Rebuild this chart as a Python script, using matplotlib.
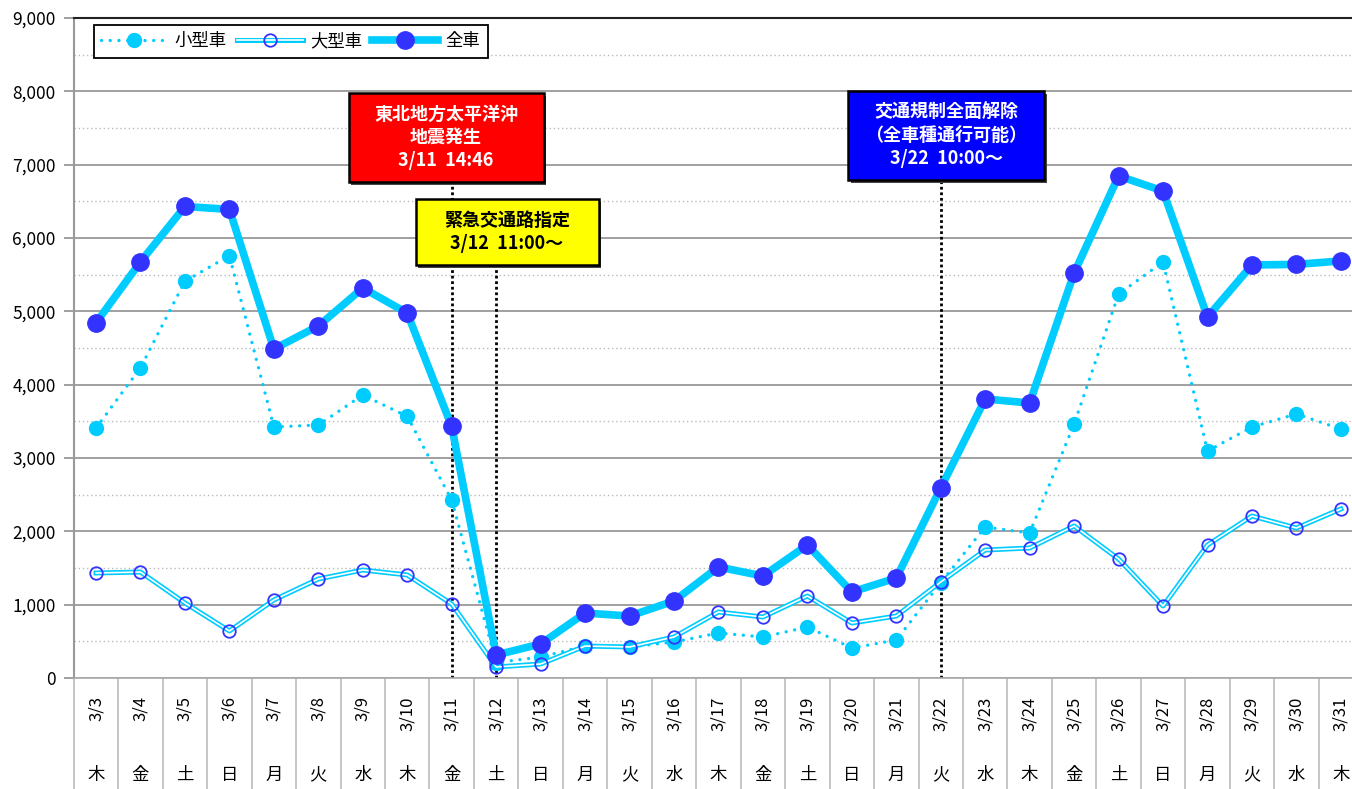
import matplotlib
matplotlib.use("Agg")
import matplotlib.pyplot as plt
from matplotlib.lines import Line2D
from matplotlib.patches import Rectangle
from matplotlib.legend_handler import HandlerTuple

plt.rcParams['font.family'] = ['Noto Sans CJK JP', 'DejaVu Sans']

dates = ["3/3", "3/4", "3/5", "3/6", "3/7", "3/8", "3/9", "3/10", "3/11", "3/12",
         "3/13", "3/14", "3/15", "3/16", "3/17", "3/18", "3/19", "3/20", "3/21", "3/22",
         "3/23", "3/24", "3/25", "3/26", "3/27", "3/28", "3/29", "3/30", "3/31"]
weekdays = ["木", "金", "土", "日", "月", "火", "水", "木", "金", "土",
            "日", "月", "火", "水", "木", "金", "土", "日", "月", "火",
            "水", "木", "金", "土", "日", "月", "火", "水", "木"]

small = [3409, 4230, 5410, 5760, 3423, 3450, 3859, 3568, 2427, 210,
         286, 436, 423, 491, 614, 559, 695, 409, 518, 1300,
         2059, 1977, 3464, 5236, 5673, 3095, 3423, 3600, 3395]
large = [1432, 1445, 1023, 641, 1064, 1350, 1473, 1405, 1009, 150,
         191, 436, 423, 559, 900, 832, 1118, 750, 845, 1309,
         1745, 1773, 2073, 1623, 982, 1814, 2209, 2045, 2305]
total = [4845, 5675, 6430, 6390, 4486, 4800, 5318, 4977, 3430, 314,
         464, 886, 845, 1050, 1514, 1391, 1814, 1173, 1364, 2591,
         3805, 3750, 5523, 6846, 6641, 4923, 5632, 5640, 5687]

event_idx = [8, 9, 19]

cyan = "#00CCFF"
blue = "#3333FF"

fig = plt.figure(figsize=(13.52, 7.89), dpi=100)
ax = fig.add_axes([73.8 / 1352, 111 / 789, (1352 - 73.8) / 1352, 660 / 789])

x = list(range(len(dates)))

# 小型車
ax.plot(x, small, color=cyan, lw=2.4, linestyle=(0, (0.01, 2.6)),
        dash_capstyle='round', zorder=3)
ax.plot(x, small, 'o', color=cyan, ms=10, zorder=3.1)
# 大型車 (double line)
ax.plot(x, large, color=cyan, lw=3.6, zorder=4)
ax.plot(x, large, color='white', lw=1.2, zorder=4.1)
ax.plot(x, large, 'o', mfc='none', mec=blue, ms=9, mew=1.3, zorder=4.2)
# 全車
ax.plot(x, total, color=cyan, lw=5.5, zorder=5)
ax.plot(x, total, 'o', color=blue, ms=12.5, zorder=5.1)

ax.set_xlim(-0.5, 28.25)
ax.set_ylim(0, 9000)
ax.set_yticks(range(0, 9001, 1000))
ax.set_yticklabels([f"{v:,}" for v in range(0, 9001, 1000)], fontsize=12.5)
ax.set_yticks(range(500, 9000, 1000), minor=True)
ax.tick_params(axis='y', which='major', length=7, color='#999999', width=1.3, pad=6)
ax.tick_params(axis='y', which='minor', length=0)
ax.grid(axis='y', which='major', color='#A0A0A0', lw=1.4, zorder=0)
ax.grid(axis='y', which='minor', color='#BBBBBB', lw=1, linestyle=(0, (1, 2)), zorder=0)
ax.set_xticks([])

ax.spines['right'].set_visible(False)
ax.spines['top'].set_color('#222222')
ax.spines['top'].set_linewidth(1.5)
ax.spines['left'].set_color('#999999')
ax.spines['left'].set_linewidth(1.5)
ax.spines['bottom'].set_color('#AAAAAA')
ax.spines['bottom'].set_linewidth(1.2)

# table-like x axis
tr = ax.get_xaxis_transform()
for i in range(len(dates) + 1):
    ax.plot([i - 0.5, i - 0.5], [0, -0.168], transform=tr, color='#BBBBBB',
            lw=1.2, clip_on=False)
for i, (d, w) in enumerate(zip(dates, weekdays)):
    ax.text(i, -0.028, d, transform=tr, rotation=90, ha='center', va='top',
            fontsize=12)
    ax.text(i, -0.147, w, transform=tr, ha='center', va='center', fontsize=12.5)

# event lines
box_bottoms = [0.7515, 0.6258, 0.7545]
for idx, yb in zip(event_idx, box_bottoms):
    ax.axvline(idx, ymin=0, ymax=yb, color='black', lw=2,
               linestyle=(0, (1, 1)), zorder=2)

# annotation boxes (axes fraction)
boxes = [
    ((0.2150, 0.7515), 0.1525, 0.1348, 'red', 'white',
     "東北地方太平洋沖\n地震発生\n3/11  14:46"),
    ((0.2674, 0.6258), 0.1431, 0.1000, 'yellow', 'black',
     "緊急交通路指定\n3/12  11:00～"),
    ((0.6060, 0.7545), 0.1532, 0.1349, 'blue', 'white',
     "交通規制全面解除\n（全車種通行可能）\n3/22  10:00～"),
]
for (x0, y0), w, h, fc, tc, txt in boxes:
    ax.add_patch(Rectangle((x0 + 0.002, y0 - 0.004), w, h, transform=ax.transAxes,
                           facecolor='#444444', edgecolor='none', zorder=6,
                           clip_on=False))
    ax.add_patch(Rectangle((x0, y0), w, h, transform=ax.transAxes, facecolor=fc,
                           edgecolor='black', lw=1.8, zorder=6.1, clip_on=False))
    ax.text(x0 + w / 2, y0 + h / 2, txt, transform=ax.transAxes, ha='center',
            va='center', color=tc, fontsize=13, fontweight='bold',
            linespacing=1.25, zorder=7)

# legend
h_small = Line2D([], [], color=cyan, lw=2.4, linestyle=(0, (0.01, 2.6)),
                 dash_capstyle='round', marker='o', ms=10)
h_large = (Line2D([], [], color=cyan, lw=3.6),
           Line2D([], [], color='white', lw=1.2),
           Line2D([], [], ls='none', marker='o', mfc='none', mec=blue, ms=9, mew=1.3))
h_total = Line2D([], [], color=cyan, lw=5.5, marker='o', mfc=blue, mec=blue, ms=12.5)
leg = ax.legend([h_small, h_large, h_total], ["小型車", "大型車", "全車"],
                handler_map={tuple: HandlerTuple(ndivide=1, pad=0)},
                loc='upper left', bbox_to_anchor=(0.0155, 0.99), ncol=3,
                fontsize=12.5, frameon=True, fancybox=False, edgecolor='black',
                framealpha=1, handlelength=3.8, columnspacing=0.6,
                handletextpad=0.4, borderpad=0.45, borderaxespad=0)
leg.get_frame().set_linewidth(1.3)
leg.set_zorder(8)

fig.savefig("out.png", dpi=100)
